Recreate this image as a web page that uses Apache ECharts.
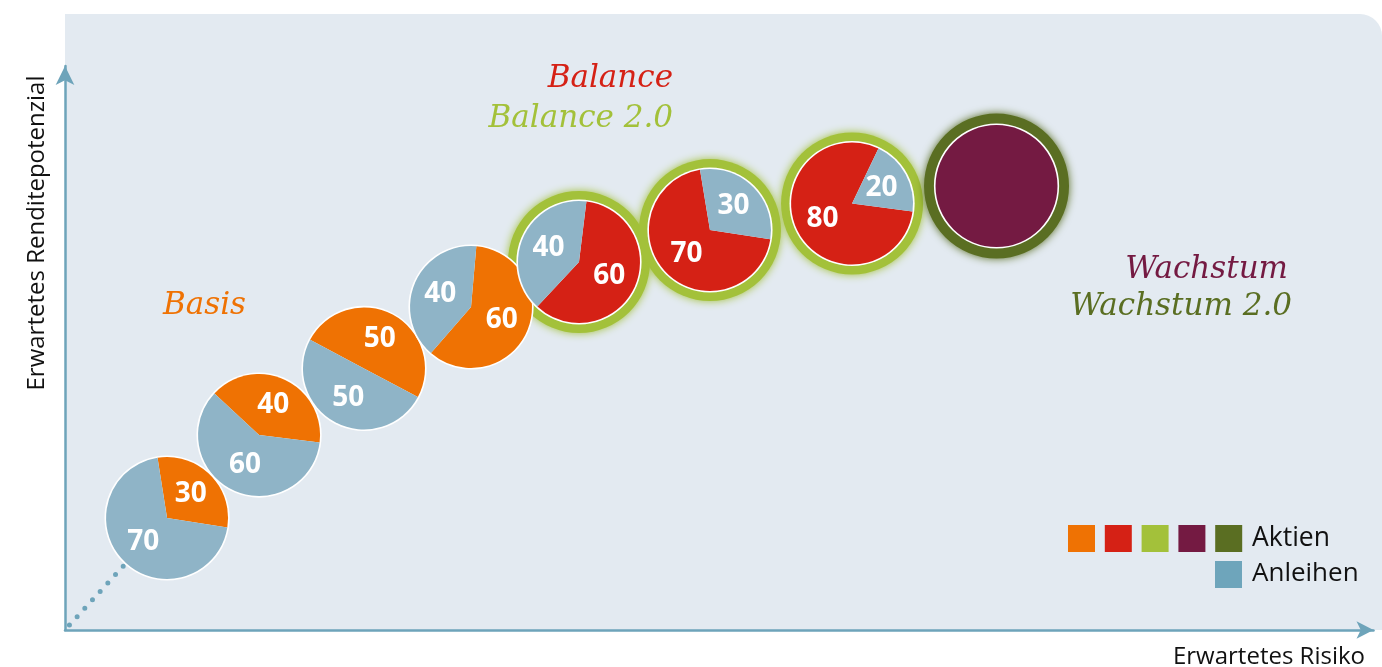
<!DOCTYPE html>
<html><head><meta charset="utf-8">
<script src="https://cdn.jsdelivr.net/npm/echarts@6/dist/echarts.min.js"></script>
<style>html,body{margin:0;padding:0;background:#fff}#c{width:1382px;height:667px}</style>
</head><body><div id="c"></div>
<script>
// ---- data ----
const portfolios = ['Basis 30', 'Basis 40', 'Basis 50', 'Basis 60', 'Balance 60', 'Balance 70', 'Balance 80', 'Wachstum 100'];
const risk = [7.80, 14.83, 22.85, 31.03, 39.28, 49.29, 60.15, 71.19];      // Erwartetes Risiko
const returnPot = [19.86, 34.57, 46.37, 57.27, 65.25, 70.92, 75.62, 78.72]; // Erwartetes Renditepotenzial
const aktien = [30, 40, 50, 60, 60, 70, 80, 100];
const anleihen = [70, 60, 50, 40, 40, 30, 20, 0];
const categories = ['Aktien', 'Anleihen'];

// ---- styles ----
const C = {
  orange: '#ef7203', red: '#d52115', lightGreen: '#a3c13a', purple: '#741a42',
  darkGreen: '#5a6e22', pieBlue: '#8fb4c7', legendBlue: '#6ea5bb',
  axis: '#6ea4ba', bg: '#e3eaf1'
};
const aktienColor = [C.orange, C.orange, C.orange, C.orange, C.red, C.red, C.red, C.purple];
const haloColor = [null, null, null, null, C.lightGreen, C.lightGreen, C.lightGreen, C.darkGreen];
const haloR = [0, 0, 0, 0, 71, 71, 71, 72.5];
const startAngles = [99, 137, 152, 85, 83, -8.6, -7.6, 90];
const R = 61;

const chart = echarts.init(document.getElementById('c'), null, { renderer: 'canvas' });

const serif = '"DejaVu Serif", serif';
const sans = '"Open Sans", "Noto Sans", sans-serif';

function titleText(text, x, y, color, align) {
  return { type: 'text', z: 100, x: x, y: y,
    style: { text: text, fill: color, font: 'italic 31px ' + serif, textAlign: align, textVerticalAlign: 'middle' } };
}

const graphic = [
  { type: 'rect', z: -10, shape: { x: 65, y: 14, width: 1317, height: 616, r: [0, 22, 0, 0] }, style: { fill: C.bg } },
  titleText('Basis', 163, 306, C.orange, 'left'),
  titleText('Balance', 673, 79, C.red, 'right'),
  titleText('Balance 2.0', 673, 119, C.lightGreen, 'right'),
  titleText('Wachstum', 1288, 270, C.purple, 'right'),
  titleText('Wachstum 2.0', 1292, 307, C.darkGreen, 'right'),
  { type: 'text', z: 100, x: 37, y: 233, rotation: Math.PI / 2,
    style: { text: 'Erwartetes Renditepotenzial', fill: '#111', font: '24px ' + sans, textAlign: 'center', textVerticalAlign: 'middle' } },
  { type: 'text', z: 100, x: 1365, y: 657,
    style: { text: 'Erwartetes Risiko', fill: '#111', font: '24px ' + sans, textAlign: 'right', textVerticalAlign: 'middle' } }
];
// legend squares
[C.orange, C.red, C.lightGreen, C.purple, C.darkGreen].forEach(function (col, i) {
  graphic.push({ type: 'rect', z: 100, shape: { x: 1068 + i * 36.8, y: 525, width: 27, height: 27 }, style: { fill: col } });
});
graphic.push({ type: 'rect', z: 100, shape: { x: 1215, y: 561, width: 27, height: 27 }, style: { fill: C.legendBlue } });
graphic.push({ type: 'text', z: 100, x: 1252, y: 538, style: { text: categories[0], fill: '#111', font: '26.5px ' + sans, textVerticalAlign: 'middle' } });
graphic.push({ type: 'text', z: 100, x: 1252, y: 574, style: { text: categories[1], fill: '#111', font: '26px ' + sans, textVerticalAlign: 'middle' } });

const points = risk.map(function (x, i) { return [x, returnPot[i]]; });

const base = {
  animation: false,
  backgroundColor: '#ffffff',
  grid: { left: 65, right: 8.5, top: 66, bottom: 37, containLabel: false, outerBoundsMode: 'none' },
  xAxis: { type: 'value', min: 0, max: 100, splitLine: { show: false }, axisTick: { show: false }, axisLabel: { show: false },
    axisLine: { show: true, onZero: false, lineStyle: { color: C.axis, width: 2.5 }, symbol: ['none', 'arrow'], symbolSize: [13, 17] } },
  yAxis: { type: 'value', min: 0, max: 100, splitLine: { show: false }, axisTick: { show: false }, axisLabel: { show: false },
    axisLine: { show: true, onZero: false, lineStyle: { color: C.axis, width: 2.5 }, symbol: ['none', 'arrow'], symbolSize: [14, 19] } },
  graphic: graphic,
  series: [
    { type: 'line', z: 1, silent: true, symbol: 'none', data: [[0, 0], points[0]],
      lineStyle: { color: C.axis, width: 5, type: [0, 11.4], cap: 'round', dashOffset: 4.8 } }
  ]
};
chart.setOption(base);

const series = [];
const centers = points.map(function (p) { return chart.convertToPixel({ gridIndex: 0 }, p); });
// halos (drawn beneath all pies)
centers.forEach(function (c, i) {
  if (!haloColor[i]) return;
  series.push({ type: 'pie', z: 2, silent: true, center: c, radius: haloR[i], label: { show: false },
    labelLine: { show: false }, emphasis: { disabled: true },
    data: [{ value: 1, itemStyle: { color: haloColor[i], shadowBlur: 9, shadowColor: haloColor[i] } }] });
});
centers.forEach(function (c, i) {
  // white rim
  series.push({ type: 'pie', z: 3 + i * 2, silent: true, center: c, radius: R + 1.6, label: { show: false },
    labelLine: { show: false }, emphasis: { disabled: true }, data: [{ value: 1, itemStyle: { color: '#ffffff' } }] });
  const data = [];
  if (aktien[i] > 0) data.push({ name: categories[0], value: aktien[i], itemStyle: { color: aktienColor[i] } });
  if (anleihen[i] > 0) data.push({ name: categories[1], value: anleihen[i], itemStyle: { color: C.pieBlue } });
  series.push({ type: 'pie', name: portfolios[i], z: 4 + i * 2, silent: true, center: c, radius: R,
    startAngle: startAngles[i], clockwise: true,
    label: { show: data.length > 1, position: 'inside', formatter: '{c}', color: '#fff',
      fontFamily: sans, fontWeight: 'bold', fontSize: 28 },
    labelLine: { show: false }, itemStyle: { borderWidth: 0 }, emphasis: { disabled: true },
    data: data });
});
chart.setOption({ series: base.series.concat(series) });
</script>
</body></html>
